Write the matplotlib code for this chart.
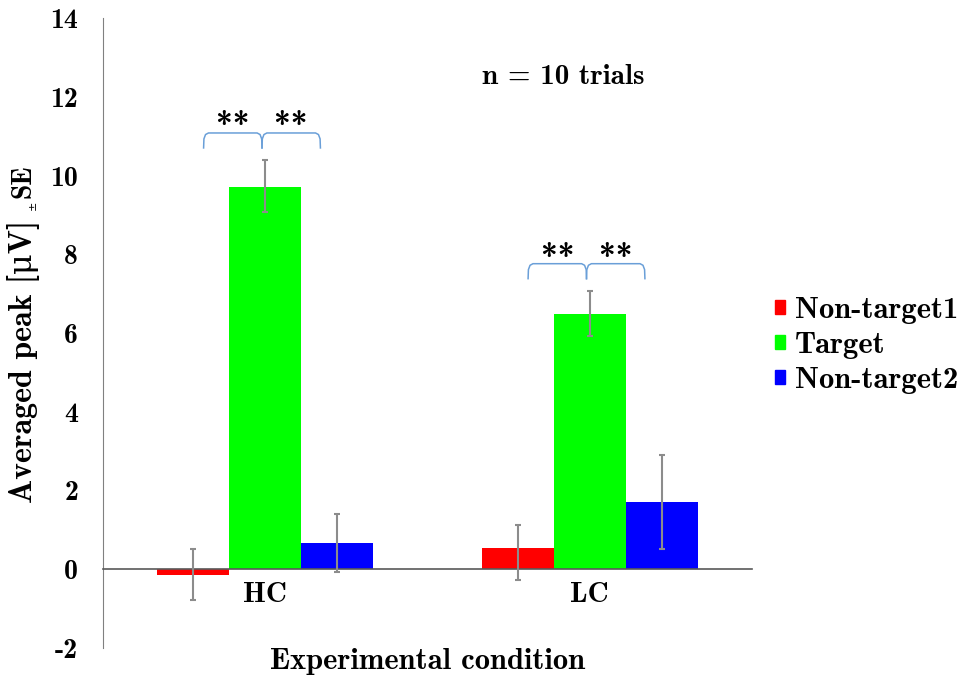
import numpy as np
import matplotlib
matplotlib.use('Agg')
import matplotlib.pyplot as plt
from matplotlib.patches import Patch

# values
conditions = ['HC', 'LC']
series = ['Non-target1', 'Target', 'Non-target2']
means = {
    'Non-target1': [-0.15, 0.55],
    'Target': [9.70, 6.48],
    'Non-target2': [0.66, 1.71],
}
# error bars: (lower, upper) lengths
err_low = {
    'Non-target1': [0.62, 0.83],
    'Target': [0.63, 0.56],
    'Non-target2': [0.73, 1.19],
}
err_high = {
    'Non-target1': [0.66, 0.58],
    'Target': [0.69, 0.59],
    'Non-target2': [0.74, 1.20],
}
colors = ['#ff0000', '#00ff00', '#0000ff']
yticks = [-2, 0, 2, 4, 6, 8, 10, 12, 14]
ytick_labels = ['-2', '0', '2', '4', '6', '8', '10', '12', '14']

# significance brackets: (x start, x end) offsets from group centre, bracket top, stars y
bracket_spans = [(-0.19, -0.01), (-0.01, 0.17)]
bracket_top = [11.08, 7.76]
star_y = [11.25, 7.9]

serif = ['cmb10', 'DejaVu Serif']
plt.rcParams['font.family'] = serif
plt.rcParams['axes.unicode_minus'] = False

fig = plt.figure(figsize=(9.65, 6.79), dpi=100)
ax = fig.add_axes([103/965, 31/679, 649/965, 630/679])

x = np.arange(len(conditions))
w = 0.222
for i, s in enumerate(series):
    pos = x + (i - 1)*w
    ax.bar(pos, means[s], w, color=colors[i], label=s, zorder=2)
    ax.errorbar(pos, means[s], yerr=[err_low[s], err_high[s]], fmt='none',
                ecolor='#8c8c8c', elinewidth=1.5, capsize=2.5, capthick=1.5, zorder=3)

# brackets with hooked ends
for g in range(len(conditions)):
    top = bracket_top[g]
    for (a, b) in bracket_spans:
        x0 = g + a
        x1 = g + b
        bx = [x0, x0 + 0.001, x0 + 0.006, x0 + 0.015, x1 - 0.015, x1 - 0.006, x1 - 0.001, x1]
        by = [top - 0.38, top - 0.15, top - 0.04, top, top, top - 0.04, top - 0.15, top - 0.38]
        ax.plot(bx, by, color='#6a9fd8', lw=1.1, zorder=4)
        ax.text((x0 + x1)/2, star_y[g], '**', ha='center', va='center', fontsize=24)

ax.text(0.917, 12.5, 'n = 10 trials', ha='center', va='center', fontsize=21)

ax.set_xlim(-0.5, 1.5)
ax.set_ylim(-2, 14)

ax.spines['top'].set_visible(False)
ax.spines['right'].set_visible(False)
ax.spines['left'].set_color('#808080')
ax.spines['bottom'].set_position(('data', 0))
ax.spines['bottom'].set_color('#595959')
ax.spines['bottom'].set_linewidth(1.2)

ax.set_yticks(yticks)
ax.set_yticklabels(ytick_labels)
ax.set_xticks(x)
ax.set_xticklabels(conditions)
ax.tick_params(axis='y', length=0, pad=18, labelsize=20)
ax.tick_params(axis='x', length=0, pad=9, labelsize=21)

ax.set_xlabel('Experimental condition', fontsize=22)
ax.xaxis.set_label_coords(0.5, -0.022)
ax.xaxis.label.set_va('center')
ax.set_ylabel('Averaged peak [μV]', fontsize=23)
ax.yaxis.set_label_coords(-0.122, 0.455)
ax.yaxis.label.set_va('center')
fig.text(24/965, 1 - 181/679, 'SE', rotation=90, ha='center', va='center', fontsize=20)
fig.text(33/965, 1 - 205/679, '±', rotation=90, ha='center', va='center',
         fontsize=8, family=['DejaVu Serif'])

handles = [Patch(color=c) for c in colors]
leg = fig.legend(handles, series, loc='center left',
                 bbox_to_anchor=(775/965, 1 - 345.5/679), frameon=False,
                 borderpad=0, fontsize=22, handlelength=0.33, handleheight=0.33,
                 handletextpad=0.33, labelspacing=0.25, borderaxespad=0)

fig.savefig('out.png', dpi=100)
